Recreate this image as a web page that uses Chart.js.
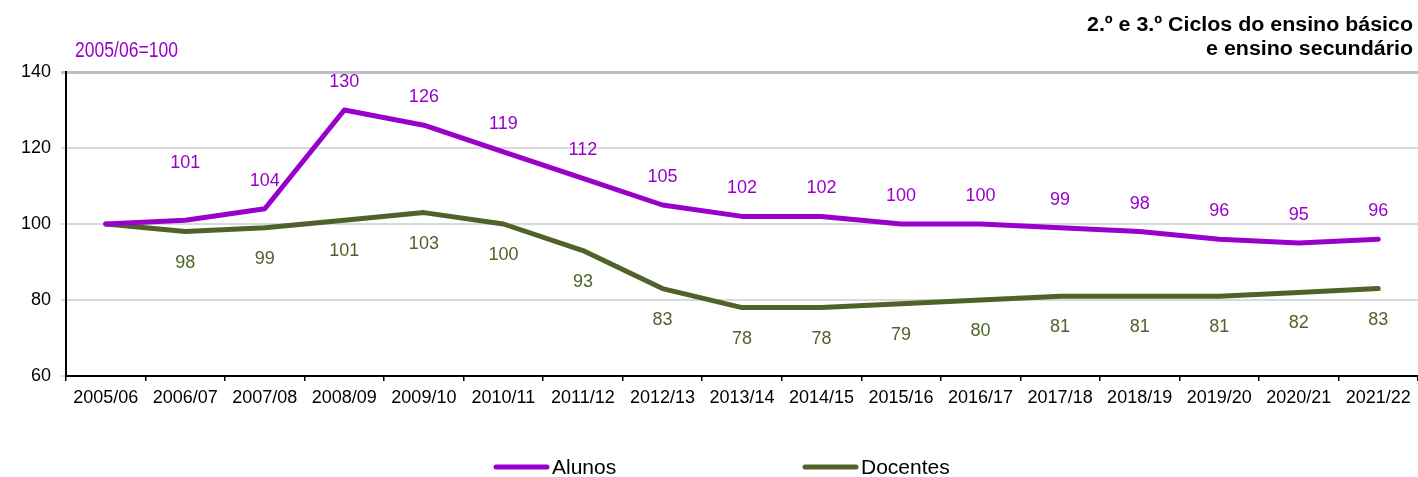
<!DOCTYPE html>
<html>
<head>
<meta charset="utf-8">
<title>Alunos e Docentes</title>
<script src="https://cdn.jsdelivr.net/npm/chart.js@4.4.0/dist/chart.umd.min.js"></script>
<style>
  html, body { margin: 0; padding: 0; background: #ffffff; }
  #chart-box { position: relative; width: 1418px; height: 477px; }
</style>
</head>
<body>
<div id="chart-box">
  <canvas id="evolucao-chart" width="1418" height="477"></canvas>
</div>
<script>
'use strict';

// *************** DATA
let anosLetivos = ['2005/06', '2006/07', '2007/08', '2008/09', '2009/10', '2010/11', '2011/12', '2012/13', '2013/14', '2014/15', '2015/16', '2016/17', '2017/18', '2018/19', '2019/20', '2020/21', '2021/22'];
let alunos = [100, 101, 104, 130, 126, 119, 112, 105, 102, 102, 100, 100, 99, 98, 96, 95, 96];
let docentes = [100, 98, 99, 101, 103, 100, 93, 83, 78, 78, 79, 80, 81, 81, 81, 82, 83];
let yTicks = [60, 80, 100, 120, 140];

let tituloLinhas = ['2.º e 3.º Ciclos do ensino básico', 'e ensino secundário'];
let notaBase = '2005/06=100';

// *************** COLOURS / FONTS
let roxo = '#9900cc';
let verde = '#4f6228';
let fonte = '"Liberation Sans", Arial, sans-serif';

let ctx = document.getElementById('evolucao-chart');

// *************** HELPERS

// draw text squeezed or stretched to a given width
function fitText(c, text, x, y, width, align) {
  let w = c.measureText(text).width;
  let k = width / w;
  c.save();
  c.textAlign = 'left';
  let left = align === 'right' ? x - width : x;
  c.translate(left, y);
  c.scale(k, 1);
  c.fillText(text, 0, 0);
  c.restore();
}

// *************** PLUGINS

// value labels: purple above the line, green below
let labelsPlugin = {
  id: 'valueLabels',
  afterDatasetsDraw(chart) {
    let c = chart.ctx;
    c.save();
    c.font = '18px ' + fonte;
    c.textAlign = 'center';
    c.textBaseline = 'middle';
    chart.data.datasets.forEach(function (ds, d) {
      let meta = chart.getDatasetMeta(d);
      meta.data.forEach(function (pt, i) {
        if (i === 0) {
          return;
        }
        let y;
        if (d === 0) {
          y = pt.y - (i === 1 ? 57 : 28);
        } else {
          y = pt.y + 31;
        }
        c.fillStyle = ds.borderColor;
        c.fillText(String(ds.data[i]), pt.x, y);
      });
    });
    c.restore();
  }
};

// title, base note and legend drawn by hand
let extrasPlugin = {
  id: 'extras',
  afterDraw(chart) {
    let c = chart.ctx;
    c.save();

    c.font = 'bold 20px ' + fonte;
    c.fillStyle = '#000000';
    c.textBaseline = 'alphabetic';
    fitText(c, tituloLinhas[0], 1413, 31, 326, 'right');
    let w2 = c.measureText(tituloLinhas[1]).width * 326 / c.measureText(tituloLinhas[0]).width;
    fitText(c, tituloLinhas[1], 1413, 55, w2, 'right');

    c.font = '22px ' + fonte;
    c.fillStyle = roxo;
    fitText(c, notaBase, 75, 57, 103, 'left');

    // legend
    let items = [
      { name: 'Alunos', color: roxo, x: 496 },
      { name: 'Docentes', color: verde, x: 805 }
    ];
    c.font = '21px ' + fonte;
    c.textAlign = 'left';
    c.textBaseline = 'middle';
    c.lineCap = 'round';
    c.lineWidth = 5;
    items.forEach(function (it) {
      c.strokeStyle = it.color;
      c.beginPath();
      c.moveTo(it.x, 467);
      c.lineTo(it.x + 51, 467);
      c.stroke();
      c.fillStyle = '#000000';
      c.fillText(it.name, it.x + 56, 468);
    });

    c.restore();
  }
};

// *************** CHART
let chartObj = {
  type: 'line',
  data: {
    labels: anosLetivos,
    datasets: [{
      label: 'Alunos',
      data: alunos,
      borderColor: roxo,
      backgroundColor: roxo,
      borderWidth: 5,
      pointRadius: 0,
      tension: 0,
      borderCapStyle: 'round',
      borderJoinStyle: 'round'
    },
    {
      label: 'Docentes',
      data: docentes,
      borderColor: verde,
      backgroundColor: verde,
      borderWidth: 5,
      pointRadius: 0,
      tension: 0,
      borderCapStyle: 'round',
      borderJoinStyle: 'round'
    }]
  },
  options: {
    responsive: false,
    animation: false,
    layout: {
      padding: { top: 72, left: 0, right: 0, bottom: 60 }
    },
    plugins: {
      legend: { display: false },
      tooltip: { enabled: false }
    },
    scales: {
      x: {
        offset: true,
        grid: {
          offset: true,
          drawOnChartArea: false,
          drawTicks: true,
          tickLength: 5,
          color: '#000000',
          lineWidth: 1.5
        },
        border: { color: '#000000', width: 2 },
        ticks: {
          color: '#000000',
          font: { family: fonte, size: 18 },
          padding: 6,
          maxRotation: 0,
          autoSkip: false
        },
        afterFit(scale) {
          scale.height = 41;
        }
      },
      y: {
        min: 60,
        max: 140,
        afterBuildTicks(scale) {
          scale.ticks = yTicks.map(function (v) { return { value: v }; });
        },
        grid: {
          drawTicks: true,
          tickLength: 5,
          color(context) {
            if (context.tick && context.tick.value === 140) {
              return '#bfbfbf';
            }
            return '#d9d9d9';
          },
          lineWidth(context) {
            if (context.tick && context.tick.value === 140) {
              return 3;
            }
            return 2;
          }
        },
        border: { color: '#000000', width: 2 },
        ticks: {
          color: '#000000',
          font: { family: fonte, size: 18 },
          padding: 10
        },
        afterFit(scale) {
          scale.width = 66;
        }
      }
    }
  },
  plugins: [labelsPlugin, extrasPlugin]
};

new Chart(ctx, chartObj); // eslint-disable-line
</script>
</body>
</html>
